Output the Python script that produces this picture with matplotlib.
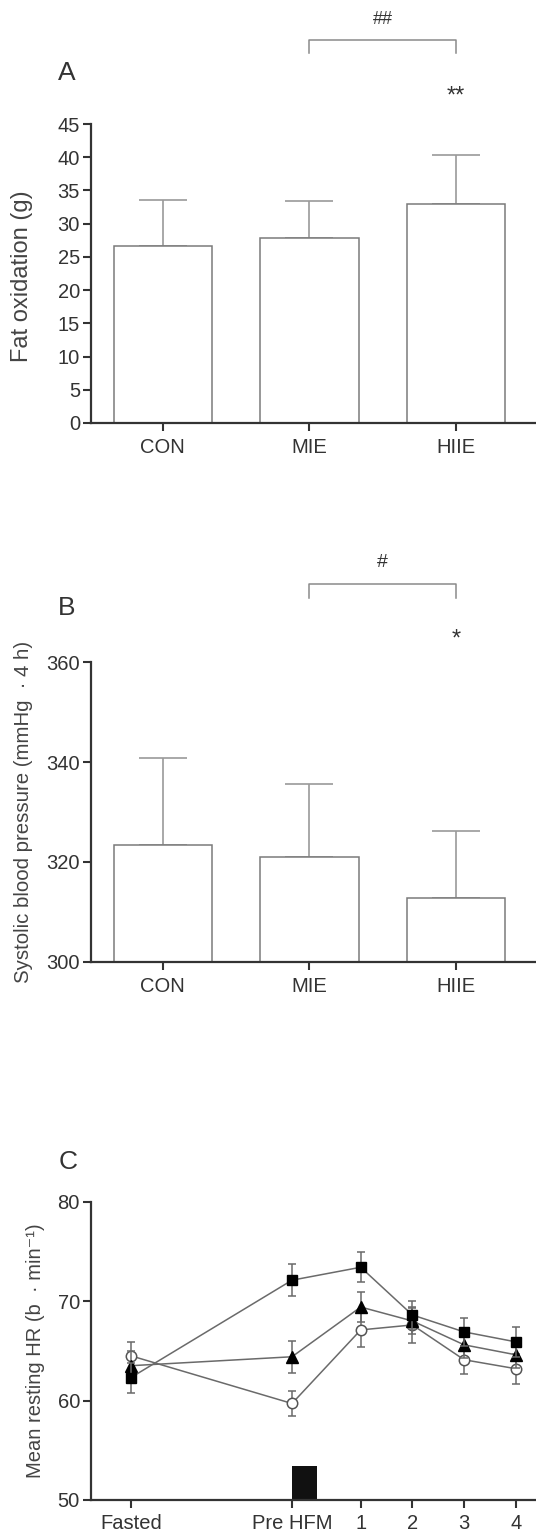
import matplotlib.pyplot as plt

plt.rcParams['font.family'] = ['Liberation Sans', 'DejaVu Sans']

groups = ['CON', 'MIE', 'HIIE']

fat_ox = [26.7, 27.8, 33.0]
fat_ox_err = [6.9, 5.6, 7.3]

sbp = [323.4, 320.9, 312.7]
sbp_err = [17.4, 14.7, 13.5]

hr_x = [-3.45, -0.33, 1, 2, 3, 4]
hr_labels = ['Fasted', 'Pre HFM', '1', '2', '3', '4']
hr_hiie = [62.3, 72.1, 73.4, 68.6, 66.9, 65.9]
hr_hiie_err = [1.5, 1.6, 1.5, 1.4, 1.4, 1.5]
hr_mie = [63.5, 64.4, 69.4, 68.0, 65.6, 64.6]
hr_mie_err = [1.5, 1.6, 1.5, 1.3, 1.3, 1.3]
hr_con = [64.5, 59.7, 67.1, 67.6, 64.1, 63.2]
hr_con_err = [1.4, 1.3, 1.7, 1.8, 1.4, 1.5]

meal_start = -0.33
meal_width = 0.48
meal_height = 3.4

dark = '#333333'
grey = '#8a8a8a'

fig = plt.figure(figsize=(5.36, 15.37), dpi=100)


def style(ax):
    for s in ['top', 'right']:
        ax.spines[s].set_visible(False)
    for s in ['left', 'bottom']:
        ax.spines[s].set_color(dark)
        ax.spines[s].set_linewidth(1.6)
    ax.tick_params(axis='both', length=6, width=1.5, color=dark,
                   labelcolor=dark, labelsize=14.5, pad=2)


def bar_panel(ax, vals, errs, ylim, yticks, ylabel, lsize):
    x = range(len(groups))
    ax.bar(x, vals, width=0.67, color='white', edgecolor='#7a7a7a',
           linewidth=1.1, zorder=2)
    ax.errorbar(x, vals, yerr=[[0] * len(errs), errs], fmt='none',
                ecolor='#9a9a9a', elinewidth=1.2, capsize=17.5,
                capthick=1.2, zorder=1)
    ax.set_xlim(-0.49, 2.545)
    ax.set_ylim(*ylim)
    ax.set_yticks(yticks)
    ax.set_xticks(list(x))
    ax.set_xticklabels(groups)
    ax.set_ylabel(ylabel, fontsize=lsize, color='#444444')
    style(ax)
    ax.tick_params(axis='x', pad=5)


# A
axA = fig.add_axes([0.1698, 0.7248, 0.830, 0.1945])
bar_panel(axA, fat_ox, fat_ox_err, (0, 45), range(0, 46, 5), 'Fat oxidation (g)', 17)
axA.yaxis.set_label_coords(-0.130, 0.49)
axA.plot([1, 1, 2, 2], [55.7, 57.6, 57.6, 55.7], color=grey, lw=1.1, clip_on=False)
axA.text(1.5, 60.8, '##', ha='center', va='center', fontsize=13, color=dark)
axA.text(2, 49.1, '**', ha='center', va='center', fontsize=17, color=dark)
axA.text(-0.655, 52.7, 'A', ha='center', va='center', fontsize=19, color=dark)

# B
axB = fig.add_axes([0.1698, 0.3743, 0.830, 0.1948])
bar_panel(axB, sbp, sbp_err, (300, 360), [300, 320, 340, 360],
          'Systolic blood pressure (mmHg  · 4 h)', 14.7)
axB.yaxis.set_label_coords(-0.130, 0.5)
axB.plot([1, 1, 2, 2], [372.8, 375.6, 375.6, 372.8], color=grey, lw=1.1, clip_on=False)
axB.text(1.5, 380.0, '#', ha='center', va='center', fontsize=14, color=dark)
axB.text(2, 364.6, '*', ha='center', va='center', fontsize=17, color=dark)
axB.text(-0.655, 370.9, 'B', ha='center', va='center', fontsize=19, color=dark)

# C
axC = fig.add_axes([0.1698, 0.0241, 0.830, 0.1941])
line_kw = dict(color='#6a6a6a', lw=1.1, elinewidth=1.1, capsize=3, capthick=1.1,
               ecolor='#6a6a6a', clip_on=False)
axC.errorbar(hr_x, hr_con, yerr=hr_con_err, marker='o', ms=7.5,
             mfc='white', mec='#555555', mew=1.1, zorder=3, **line_kw)
axC.errorbar(hr_x, hr_mie, yerr=hr_mie_err, marker='^', ms=8,
             mfc='black', mec='black', zorder=4, **line_kw)
axC.errorbar(hr_x, hr_hiie, yerr=hr_hiie_err, marker='s', ms=6.5,
             mfc='black', mec='black', zorder=5, **line_kw)
axC.bar(meal_start, meal_height, bottom=50, width=meal_width, align='edge',
        color='#111111', zorder=2)
axC.set_xlim(-4.22, 4.39)
axC.set_ylim(50, 80)
axC.set_yticks([50, 60, 70, 80])
axC.set_xticks(hr_x)
axC.set_xticklabels(hr_labels)
axC.set_ylabel('Mean resting HR (b  · min⁻¹)', fontsize=14.5, color='#444444')
axC.yaxis.set_label_coords(-0.103, 0.5)
style(axC)
axC.tick_params(axis='x', pad=4)
axC.text(-4.66, 84.0, 'C', ha='center', va='center', fontsize=19, color=dark)

fig.savefig('out.png', dpi=100, facecolor='white')
